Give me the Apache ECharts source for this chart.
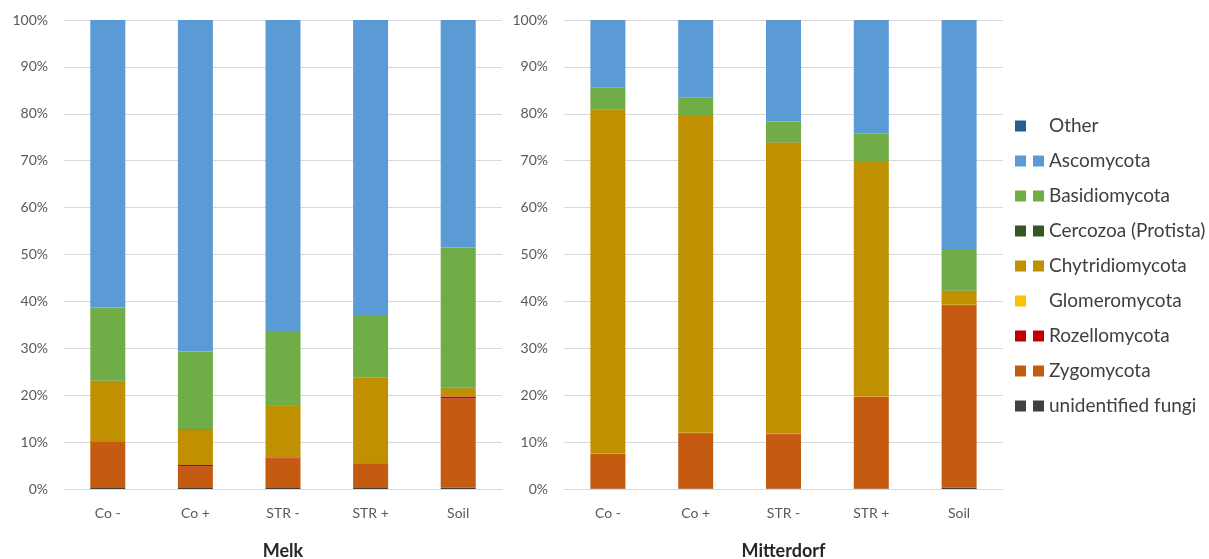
<!DOCTYPE html>
<html>
<head>
<meta charset="utf-8">
<script src="https://cdn.jsdelivr.net/npm/echarts@6/dist/echarts.min.js"></script>
<style>
  html, body { margin: 0; padding: 0; background: #fff; }
  #chart { width: 1209px; height: 559px; }
</style>
</head>
<body>
<div id="chart"></div>
<script>
// Sample categories shared by both sites
const categories = ['Co -', 'Co +', 'STR -', 'STR +', 'Soil'];
const yTicks = [0, 10, 20, 30, 40, 50, 60, 70, 80, 90, 100];
const siteNames = ['Melk', 'Mitterdorf'];

// Relative abundance (%) per phylum, site Melk
const melkUnidentified = [0.2, 0.2, 0.2, 0.2, 0.3];
const melkZygomycota   = [9.9, 4.6, 6.3, 5.2, 19.0];
const melkRozellomycota = [0.1, 0.3, 0.2, 0.1, 0.4];
const melkChytridiomycota = [12.8, 7.6, 11.0, 18.2, 1.8];
const melkCercozoa     = [0.1, 0.1, 0.1, 0.1, 0.1];
const melkBasidiomycota = [15.6, 16.5, 15.9, 13.3, 29.9];
const melkAscomycota   = [61.3, 70.7, 66.3, 62.9, 48.5];

// Relative abundance (%) per phylum, site Mitterdorf
const mitUnidentified = [0.1, 0.1, 0.1, 0.1, 0.3];
const mitZygomycota   = [7.4, 11.8, 11.6, 19.5, 38.9];
const mitRozellomycota = [0.05, 0.05, 0.05, 0.05, 0.05];
const mitGlomeromycota = [0.05, 0.05, 0.05, 0.05, 0.05];
const mitChytridiomycota = [73.2, 67.7, 62.1, 50.2, 2.9];
const mitCercozoa     = [0.05, 0.05, 0.05, 0.05, 0.05];
const mitBasidiomycota = [4.8, 3.8, 4.4, 5.9, 8.9];
const mitAscomycota   = [14.3, 16.4, 21.6, 24.1, 48.8];
const mitOther        = [0.05, 0.05, 0.05, 0.05, 0.05];

const legendNames = ['Other', 'Ascomycota', 'Basidiomycota', 'Cercozoa (Protista)',
  'Chytridiomycota', 'Glomeromycota', 'Rozellomycota', 'Zygomycota', 'unidentified fungi'];

const colors = {
  'Other': '#255E91',
  'Ascomycota': '#5B9BD5',
  'Basidiomycota': '#70AD47',
  'Cercozoa (Protista)': '#375623',
  'Chytridiomycota': '#BF9000',
  'Glomeromycota': '#FFC000',
  'Rozellomycota': '#C00000',
  'Zygomycota': '#C55A11',
  'unidentified fungi': '#404040'
};

// Stack order, bottom to top
const melkSeries = [
  ['unidentified fungi', melkUnidentified],
  ['Zygomycota', melkZygomycota],
  ['Rozellomycota', melkRozellomycota],
  ['Chytridiomycota', melkChytridiomycota],
  ['Cercozoa (Protista)', melkCercozoa],
  ['Basidiomycota', melkBasidiomycota],
  ['Ascomycota', melkAscomycota]
];
const mitSeries = [
  ['unidentified fungi', mitUnidentified],
  ['Zygomycota', mitZygomycota],
  ['Rozellomycota', mitRozellomycota],
  ['Glomeromycota', mitGlomeromycota],
  ['Chytridiomycota', mitChytridiomycota],
  ['Cercozoa (Protista)', mitCercozoa],
  ['Basidiomycota', mitBasidiomycota],
  ['Ascomycota', mitAscomycota],
  ['Other', mitOther]
];

const FONT = 'Lato, "Open Sans", sans-serif';
const GRID_GRAY = '#D9D9D9';
const LABEL_GRAY = '#595959';

function makeBars(list, idx, stackName) {
  return list.map(([name, data]) => ({
    type: 'bar',
    name: name,
    xAxisIndex: idx,
    yAxisIndex: idx,
    stack: stackName,
    barWidth: 35,
    data: data,
    itemStyle: { color: colors[name] },
    emphasis: { disabled: true }
  }));
}

function xAxis(idx, title) {
  return {
    type: 'category',
    gridIndex: idx,
    data: categories,
    name: title,
    nameLocation: 'middle',
    nameGap: 53,
    nameTextStyle: { fontFamily: FONT, fontSize: 18, fontWeight: 'bold', color: '#262626' },
    axisLine: { lineStyle: { color: GRID_GRAY, width: 1 } },
    axisTick: { show: false },
    axisLabel: { fontFamily: FONT, fontSize: 14, color: LABEL_GRAY, margin: 17 }
  };
}

function yAxis(idx) {
  return {
    type: 'value',
    gridIndex: idx,
    min: yTicks[0],
    max: yTicks[yTicks.length - 1],
    interval: yTicks[1] - yTicks[0],
    axisLine: { show: false },
    axisTick: { show: false },
    splitLine: { lineStyle: { color: GRID_GRAY, width: 1 } },
    axisLabel: { fontFamily: FONT, fontSize: 14, color: LABEL_GRAY, margin: 16, formatter: '{value}%' }
  };
}

const legendText = { fontFamily: FONT, fontSize: 19, color: '#404040', lineHeight: 20 };

const option = {
  animation: false,
  backgroundColor: '#ffffff',
  grid: [
    { left: 64, width: 438, top: 20, height: 469, outerBoundsMode: 'none' },
    { left: 564, width: 439, top: 20, height: 469, outerBoundsMode: 'none' }
  ],
  xAxis: [xAxis(0, siteNames[0]), xAxis(1, siteNames[1])],
  yAxis: [yAxis(0), yAxis(1)],
  legend: [
    {
      // first marker column
      orient: 'vertical',
      left: 1010,
      top: 111,
      itemWidth: 11,
      itemHeight: 11,
      itemGap: 15,
      icon: 'rect',
      selectedMode: false,
      data: legendNames,
      formatter: () => ' ',
      textStyle: legendText
    },
    {
      // second marker column with labels
      orient: 'vertical',
      left: 1028,
      top: 111,
      itemWidth: 11,
      itemHeight: 11,
      itemGap: 15,
      icon: 'rect',
      selectedMode: false,
      data: legendNames.map(n => (n === 'Other' || n === 'Glomeromycota')
        ? { name: n, itemStyle: { opacity: 0 } }
        : n),
      textStyle: legendText
    }
  ],
  series: [...makeBars(melkSeries, 0, 'melk'), ...makeBars(mitSeries, 1, 'mit')]
};

const chart = echarts.init(document.getElementById('chart'), null, { renderer: 'canvas' });
chart.setOption(option);
</script>
</body>
</html>
